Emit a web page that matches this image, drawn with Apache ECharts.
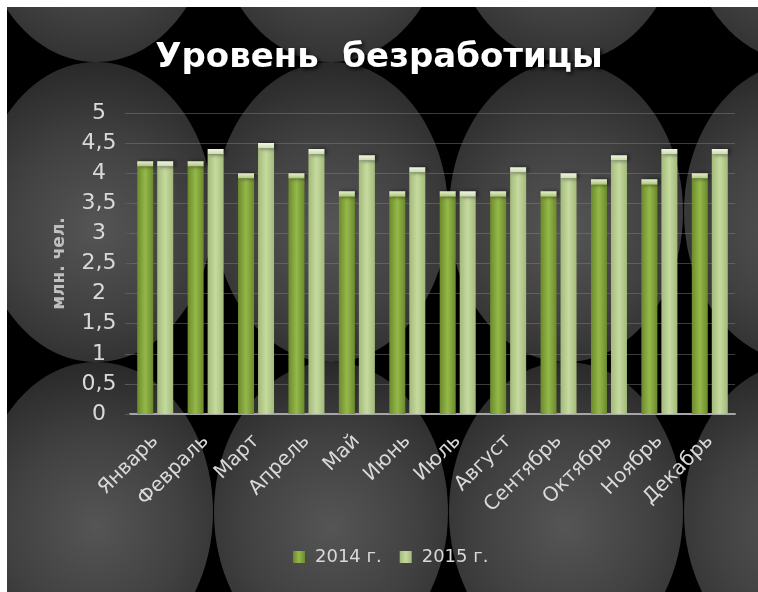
<!DOCTYPE html>
<html>
<head>
<meta charset="utf-8">
<title>Уровень безработицы</title>
<script src="https://cdn.jsdelivr.net/npm/echarts@6/dist/echarts.min.js"></script>
<style>
  html, body { margin: 0; padding: 0; background: #fff; }
  #main { width: 758px; height: 592px; }
</style>
</head>
<body>
<div id="main"></div>
<script>
// данные с графика
var months = ['Январь', 'Февраль', 'Март', 'Апрель', 'Май', 'Июнь', 'Июль', 'Август', 'Сентябрь', 'Октябрь', 'Ноябрь', 'Декабрь'];
var y2014 = [4.2, 4.2, 4.0, 4.0, 3.7, 3.7, 3.7, 3.7, 3.7, 3.9, 3.9, 4.0];
var y2015 = [4.2, 4.4, 4.5, 4.4, 4.3, 4.1, 3.7, 4.1, 4.0, 4.3, 4.4, 4.4];
var seriesNames = ['2014 г.', '2015 г.'];

// высота светлой "шапки" столбца (в единицах оси)
var capH = 0.09;

var myChart = echarts.init(document.getElementById('main'));

// фон: чёрное поле с серыми овалами
var bg = [{
	type: 'rect',
	shape: { x: 7, y: 7, width: 751, height: 585 },
	style: { fill: '#000' },
	z: -20
}];
var ellipseFill = {
	type: 'radial', x: 0.5, y: 0.55, r: 0.75,
	colorStops: [
		{ offset: 0, color: '#555' },
		{ offset: 0.5, color: '#414141' },
		{ offset: 1, color: '#262626' }
	]
};
for (var row = 0; row < 3; row++) {
	for (var col = 0; col < 4; col++) {
		bg.push({
			type: 'ellipse',
			shape: { cx: 96 + col * 235, cy: -88 + row * 300, rx: 117, ry: 150 },
			style: { fill: ellipseFill },
			z: -19
		});
	}
}
// белая рамка поверх овалов
bg.push({ type: 'rect', shape: { x: 0, y: 0, width: 7, height: 592 }, style: { fill: '#fff' }, z: -18 });
bg.push({ type: 'rect', shape: { x: 0, y: 0, width: 758, height: 7 }, style: { fill: '#fff' }, z: -18 });

function barColor(edge, mid) {
	return new echarts.graphic.LinearGradient(0, 0, 1, 0, [
		{ offset: 0, color: edge },
		{ offset: 0.5, color: mid },
		{ offset: 1, color: edge }
	]);
}
function capColor(top, bottom) {
	return new echarts.graphic.LinearGradient(0, 0, 0, 1, [
		{ offset: 0, color: top },
		{ offset: 1, color: bottom }
	]);
}

var shadow = { shadowColor: 'rgba(0,0,0,0.6)', shadowBlur: 4, shadowOffsetX: 2 };

var option = {
	backgroundColor: '#fff',
	textStyle: { fontFamily: 'DejaVu Sans' },
	graphic: bg,
	title: {
		text: 'Уровень  безработицы',
		left: 'center',
		top: 36,
		textStyle: {
			color: '#fff',
			fontFamily: 'DejaVu Sans',
			fontWeight: 'bold',
			fontSize: 34,
			textShadowColor: 'rgba(0,0,0,0.9)',
			textShadowBlur: 4,
			textShadowOffsetX: 2,
			textShadowOffsetY: 2
		}
	},
	legend: {
		data: seriesNames,
		bottom: 21,
		left: 288,
		itemWidth: 12,
		itemHeight: 12,
		itemGap: 18,
		icon: 'rect',
		textStyle: { color: '#d9d9d9', fontSize: 18, fontFamily: 'DejaVu Sans', padding: [0, 0, 0, 5] }
	},
	grid: { left: 130, right: 23, top: 113, bottom: 178 },
	xAxis: {
		type: 'category',
		data: months,
		axisLine: { lineStyle: { color: '#a6a6a6', width: 2 } },
		axisTick: { show: false },
		axisLabel: {
			interval: 0,
			rotate: 45,
			margin: 24,
			color: '#d9d9d9',
			fontSize: 20
		}
	},
	yAxis: {
		type: 'value',
		min: 0,
		max: 5,
		interval: 0.5,
		name: 'млн. чел.',
		nameLocation: 'middle',
		nameGap: 62,
		nameTextStyle: { color: '#bfbfbf', fontSize: 17, fontWeight: 'bold' },
		axisLine: { show: false },
		axisTick: { show: true, length: 5, lineStyle: { color: '#595959' } },
		splitLine: { lineStyle: { color: 'rgba(130,130,130,0.45)', width: 1 } },
		axisLabel: {
			color: '#d9d9d9',
			fontSize: 22,
			margin: 31,
			align: 'center',
			formatter: function (v) { return String(v).replace('.', ','); }
		}
	},
	series: [
		{
			name: seriesNames[0],
			type: 'bar',
			stack: 'a',
			data: y2014.map(function (v) { return +(v - capH).toFixed(2); }),
			barWidth: 16,
			barGap: '25%',
			itemStyle: Object.assign({ color: barColor('#6b8a2c', '#95b84a') }, shadow)
		},
		{
			name: seriesNames[0],
			type: 'bar',
			stack: 'a',
			data: y2014.map(function () { return capH; }),
			barWidth: 16,
			barGap: '25%',
			itemStyle: Object.assign({ color: capColor('#e6efd2', '#a9c66c') }, shadow)
		},
		{
			name: seriesNames[1],
			type: 'bar',
			stack: 'b',
			data: y2015.map(function (v) { return +(v - capH).toFixed(2); }),
			barWidth: 16,
			barGap: '25%',
			itemStyle: Object.assign({ color: barColor('#a3ba7a', '#c6da9f') }, shadow)
		},
		{
			name: seriesNames[1],
			type: 'bar',
			stack: 'b',
			data: y2015.map(function () { return capH; }),
			barWidth: 16,
			barGap: '25%',
			itemStyle: Object.assign({ color: capColor('#f0f5e4', '#c9dba8') }, shadow)
		}
	]
};

myChart.setOption(option);
</script>
</body>
</html>
